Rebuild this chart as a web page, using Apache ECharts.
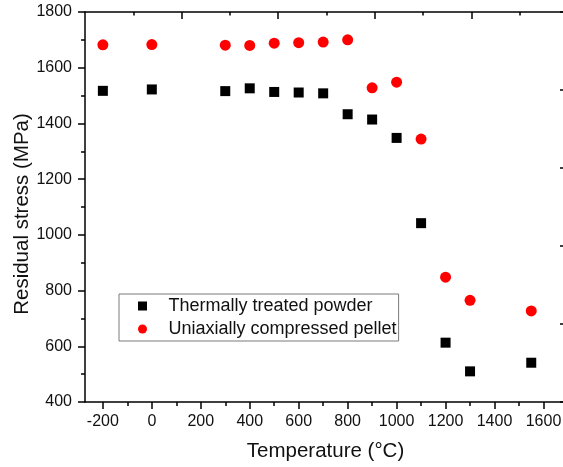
<!DOCTYPE html>
<html>
<head>
<meta charset="utf-8">
<script src="https://cdn.jsdelivr.net/npm/echarts@6/dist/echarts.min.js"></script>
<style>
html,body{margin:0;padding:0;background:#fff;}
#c{width:563px;height:467px;}
</style>
</head>
<body>
<div id="c"></div>
<script>
// Data
var temperatures = [-200, 0, 300, 400, 500, 600, 700, 800, 900, 1000, 1100, 1200, 1300, 1550];
var powderStress = [1517, 1522, 1516, 1526, 1513, 1511, 1508, 1433, 1414, 1348, 1042, 613, 510, 541];
var pelletStress = [1682, 1683, 1681, 1680, 1688, 1690, 1692, 1700, 1528, 1548, 1344, 848, 765, 727];
var seriesNames = ['Thermally treated powder', 'Uniaxially compressed pellet'];
var xMajorTicks = [-200, 0, 200, 400, 600, 800, 1000, 1200, 1400, 1600];
var xMinorTicks = [-100, 100, 300, 500, 700, 900, 1100, 1300, 1500];
var topMajorTicks = [200, 400, 600, 800];
var topMinorTicks = [100, 300, 500, 700, 900];

function pairs(xs, ys) { return xs.map(function (x, i) { return [x, ys[i]]; }); }
function plain(v) { return String(v); }

var font = 'Liberation Sans, Arial, sans-serif';
var black = '#111';

var chart = echarts.init(document.getElementById('c'));
chart.setOption({
  backgroundColor: '#fff',
  animation: false,
  grid: { left: 85, top: 12, width: 481, height: 390, containLabel: false, outerBoundsMode: 'none' },
  legend: {
    orient: 'vertical',
    left: 119, top: 294,
    padding: [2, 2, 2, 19],
    itemGap: 3,
    itemWidth: 42, itemHeight: 9,
    symbolKeepAspect: true,
    borderColor: '#7a7a7a', borderWidth: 1,
    textStyle: { fontFamily: font, fontSize: 18, color: black, lineHeight: 20 },
    data: [
      { name: seriesNames[0], icon: 'path://M0 0H10V10H0Z' },
      { name: seriesNames[1], icon: 'circle' }
    ]
  },
  xAxis: [
    {
      type: 'value', position: 'bottom', min: -273, max: 1692,
      name: 'Temperature (°C)', nameLocation: 'middle', nameGap: 39, nameMoveOverlap: false,
      nameTextStyle: { fontFamily: font, fontSize: 20.5, color: black },
      axisLine: { show: true, onZero: false, lineStyle: { color: '#000', width: 1.5 } },
      axisTick: { show: true, inside: false, length: 7, customValues: xMajorTicks, lineStyle: { color: '#000', width: 1.5 } },
      axisLabel: { show: true, margin: 12, customValues: xMajorTicks, formatter: plain, fontFamily: font, fontSize: 16, color: black },
      splitLine: { show: false }
    },
    {
      type: 'value', position: 'bottom', min: -273, max: 1692,
      axisLine: { show: false, onZero: false },
      axisTick: { show: true, inside: false, length: 4, customValues: xMinorTicks, lineStyle: { color: '#000', width: 1.5 } },
      axisLabel: { show: false },
      splitLine: { show: false }
    },
    {
      type: 'value', position: 'top', min: 0, max: 996,
      axisLine: { show: true, onZero: false, lineStyle: { color: '#000', width: 1.5 } },
      axisTick: { show: true, inside: true, length: 7, customValues: topMajorTicks, lineStyle: { color: '#000', width: 1.5 } },
      axisLabel: { show: false },
      splitLine: { show: false }
    },
    {
      type: 'value', position: 'top', min: 0, max: 996,
      axisLine: { show: false, onZero: false },
      axisTick: { show: true, inside: true, length: 3.5, customValues: topMinorTicks, lineStyle: { color: '#000', width: 1.5 } },
      axisLabel: { show: false },
      splitLine: { show: false }
    }
  ],
  yAxis: [
    {
      type: 'value', position: 'left', min: 400, max: 1800, interval: 200,
      name: 'Residual stress (MPa)', nameLocation: 'middle', nameGap: 52, nameRotate: 90, nameMoveOverlap: false,
      nameTextStyle: { fontFamily: font, fontSize: 20.5, color: black, padding: [0, 14, 0, 0] },
      axisLine: { show: true, onZero: false, lineStyle: { color: '#000', width: 1.5 } },
      axisTick: { show: true, inside: false, length: 7, lineStyle: { color: '#000', width: 1.5 } },
      minorTick: { show: true, splitNumber: 2, length: 4, lineStyle: { color: '#000', width: 1.5 } },
      axisLabel: { show: true, margin: 13, formatter: plain, fontFamily: font, fontSize: 16, color: black },
      splitLine: { show: false }
    },
    {
      type: 'value', position: 'right', min: 0, max: 5, interval: 1,
      axisLine: { show: true, onZero: false, lineStyle: { color: '#000', width: 1.5 } },
      axisTick: { show: true, inside: true, length: 6, lineStyle: { color: '#000', width: 1.5 } },
      axisLabel: { show: false },
      splitLine: { show: false }
    }
  ],
  series: [
    {
      name: seriesNames[0], type: 'scatter', xAxisIndex: 0, yAxisIndex: 0,
      symbol: 'rect', symbolSize: 10,
      itemStyle: { color: '#000', opacity: 1 },
      data: pairs(temperatures, powderStress)
    },
    {
      name: seriesNames[1], type: 'scatter', xAxisIndex: 0, yAxisIndex: 0,
      symbol: 'circle', symbolSize: 11,
      itemStyle: { color: '#ff0000', opacity: 1 },
      data: pairs(temperatures, pelletStress)
    }
  ]
});
</script>
</body>
</html>
